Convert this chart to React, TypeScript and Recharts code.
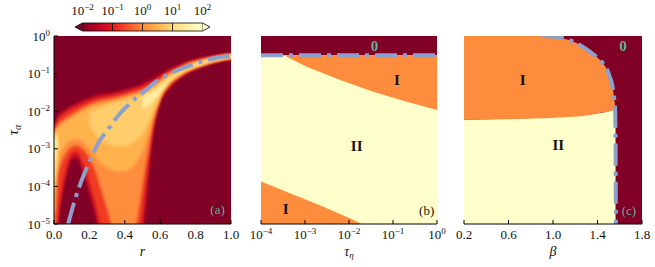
import React from 'react';
import { ComposedChart, Area, Line, XAxis, YAxis, ReferenceDot, ReferenceArea, ReferenceLine } from 'recharts';

const FONT = '"Liberation Serif", "Times New Roman", "DejaVu Serif", serif';
const BLUE = '#8da0cb';
const TEAL = '#62b096';
const DARK = '#800026';
const ORANGE = '#fd8d3c';
const PALE = '#ffffcc';
const HEAT = ['#c90d22', '#ef3b24', '#fd8d3c', '#feb24c', '#fecd6c', '#ffeda0'];
const CB_STOPS = ['#800026', '#bd0026', '#e31a1c', '#fc4e2a', '#fd8d3c', '#feb24c', '#fed976', '#ffeda0', '#ffffcc'];

// ---------- colorbar ----------
const CB_TICKS = [-2, -1, 0, 1, 2];
const CB_LEFT = [{ x: -2.25, v: [0.5, 0.5] }, { x: -2, v: [0, 1] }];
const CB_RIGHT = [{ x: 2, v: [0, 1] }, { x: 2.25, v: [0.5, 0.5] }];

// ---------- panel (a): r vs log10(tau_alpha) ----------
const R = [-0.03, 0, 0.01, 0.02, 0.035, 0.05, 0.065, 0.08, 0.1, 0.13, 0.16, 0.2, 0.23, 0.26, 0.3, 0.35, 0.4, 0.45, 0.48, 0.5, 0.52, 0.54, 0.56, 0.58, 0.6, 0.65, 0.7, 0.75, 0.8, 0.85, 0.9, 0.95, 1.0, 1.03];
const A_HI = [-2.38, -2.38, -2.25, -2.15, -2.05, -2.0, -1.95, -1.9, -1.85, -1.78, -1.71, -1.63, -1.58, -1.55, -1.52, -1.48, -1.42, -1.35, -1.31, -1.27, -1.22, -1.18, -1.13, -1.07, -1.02, -0.88, -0.78, -0.68, -0.61, -0.56, -0.52, -0.48, -0.46, -0.45];
const A_LO = [-5.3, -5.3, -5.3, -5.3, -4.6, -4.2, -3.85, -3.55, -3.3, -3.25, -3.6, -4.2, -4.7, -5.3, -5.3, -5.3, -5.3, -5.3, -5.3, -5.3, -4.5, -3.5, -2.6, -2.1, -1.78, -1.4, -1.17, -1.0, -0.89, -0.8, -0.72, -0.66, -0.62, -0.61];
const B_HI = [-2.47, -2.47, -2.35, -2.25, -2.15, -2.1, -2.05, -2.0, -1.95, -1.88, -1.81, -1.73, -1.68, -1.64, -1.61, -1.56, -1.5, -1.43, -1.39, -1.35, -1.3, -1.26, -1.21, -1.15, -1.09, -0.94, -0.83, -0.72, -0.645, -0.59, -0.545, -0.505, -0.48, -0.47];
const B_LO = [-5.3, -5.3, -5.3, -4.9, -4.3, -3.9, -3.6, -3.35, -3.15, -3.1, -3.35, -3.9, -4.4, -5.0, -5.3, -5.3, -5.3, -5.3, -5.3, -4.7, -3.9, -3.1, -2.45, -2.02, -1.72, -1.35, -1.13, -0.97, -0.865, -0.78, -0.705, -0.65, -0.61, -0.6];
const D_HI = [-2.55, -2.55, -2.45, -2.38, -2.3, -2.25, -2.2, -2.15, -2.1, -2.0, -1.92, -1.83, -1.77, -1.73, -1.69, -1.64, -1.58, -1.51, -1.47, -1.43, -1.38, -1.34, -1.29, -1.23, -1.16, -0.99, -0.87, -0.755, -0.675, -0.615, -0.565, -0.522, -0.495, -0.485];
const D_LO = [-5.3, -5.3, -4.6, -3.8, -3.45, -3.28, -3.15, -3.05, -2.95, -2.92, -3.0, -3.25, -3.55, -4.0, -4.6, -5.3, -5.3, -5.3, -4.6, -4.0, -3.4, -2.85, -2.3, -1.95, -1.67, -1.3, -1.1, -0.95, -0.845, -0.765, -0.69, -0.635, -0.6, -0.59];
const E_HI = [-2.6, -2.6, -2.52, -2.45, -2.38, -2.33, -2.28, -2.23, -2.17, -2.08, -2.0, -1.91, -1.85, -1.81, -1.76, -1.7, -1.64, -1.57, -1.53, -1.49, -1.44, -1.39, -1.34, -1.28, -1.21, -1.04, -0.91, -0.785, -0.7, -0.635, -0.58, -0.535, -0.505, -0.495];
const E_LO = [-4.7, -4.7, -4.0, -3.5, -3.15, -3.0, -2.9, -2.82, -2.76, -2.74, -2.8, -3.0, -3.2, -3.35, -3.5, -3.6, -3.6, -3.45, -3.25, -3.05, -2.8, -2.5, -2.15, -1.88, -1.62, -1.26, -1.07, -0.93, -0.83, -0.75, -0.68, -0.625, -0.59, -0.58];
const F_HI = [-2.65, -2.65, -2.58, -2.53, null, null, null, null, null, null, null, -2.05, -1.96, -1.9, -1.84, -1.77, -1.71, -1.64, -1.6, -1.56, -1.51, -1.46, -1.4, -1.34, -1.27, -1.09, -0.95, -0.815, -0.725, -0.655, -0.595, -0.548, -0.515, -0.505];
const F_LO = [-4.1, -4.1, -3.7, -3.2, null, null, null, null, null, null, null, -2.4, -2.6, -2.75, -2.85, -2.92, -2.92, -2.82, -2.7, -2.6, -2.45, -2.25, -2.0, -1.8, -1.58, -1.23, -1.04, -0.9, -0.81, -0.735, -0.665, -0.612, -0.575, -0.565];
const G_HI = [-2.72, -2.72, -2.68, -2.66, null, null, null, null, null, null, null, null, null, null, null, null, null, null, null, -1.62, -1.57, -1.52, -1.46, -1.4, -1.33, -1.13, -0.98, -0.835, -0.74, -0.668, -0.607, -0.557, -0.523, -0.513];
const G_LO = [-3.8, -3.8, -3.4, -2.95, null, null, null, null, null, null, null, null, null, null, null, null, null, null, null, -1.95, -1.9, -1.82, -1.74, -1.64, -1.52, -1.2, -1.02, -0.88, -0.79, -0.713, -0.648, -0.597, -0.563, -0.553];
const BG_RANGE = [-5.3, 0.3];

const LINE_A_R = [0.08, 0.1, 0.136, 0.2, 0.26, 0.3, 0.373, 0.41, 0.47, 0.524, 0.56, 0.6, 0.66, 0.75, 0.84, 0.92, 1.0];
const LINE_A_T = [-5.0, -4.65, -4.1, -3.35, -2.77, -2.52, -2.06, -1.88, -1.62, -1.42, -1.27, -1.14, -0.99, -0.82, -0.67, -0.58, -0.53];

const TICKS_A_X = [0, 0.2, 0.4, 0.6, 0.8, 1.0];
const TICKS_LOG_Y = [-5, -4, -3, -2, -1, 0];

// ---------- panel (b): log10(tau_eta) vs log10(tau_alpha) ----------
const TICKS_B_X = [-4, -3, -2, -1, 0];
const B_ZERO_LEVEL = -0.51;
const B_UP_X = [-3.42, -2.96, -2.2, -1.45, -0.69, 0];
const B_UP_LO = [-0.55, -0.82, -1.17, -1.48, -1.75, -1.97];
const B_DN_X = [-4, -3.34, -2.58, -1.98, -1.71];
const B_DN_HI = [-3.87, -4.18, -4.54, -4.85, -5];

// ---------- panel (c): beta vs log10(tau_alpha) ----------
const TICKS_C_X = [0.2, 0.6, 1.0, 1.4, 1.8];
const C_II_X = [0.2, 0.613, 1.0, 1.3, 1.48, 1.54, 1.562];
const C_II_HI = [-2.23, -2.2, -2.16, -2.1, -2.02, -1.97, -1.95];
const C_I_X = [0.2, 0.913, 1.033, 1.1, 1.183, 1.26, 1.333, 1.4, 1.45, 1.51, 1.54, 1.562];
const C_I_HI = [0, 0, -0.02, -0.07, -0.15, -0.26, -0.42, -0.58, -0.73, -1.08, -1.44, -1.95];
const C_I_LO = [-2.23, -2.19, -2.17, -2.16, -2.15, -2.13, -2.1, -2.06, -2.03, -2.0, -1.97, -1.95];
const C_LINE_X = [0.9, 0.97, 1.033, 1.11, 1.183, 1.26, 1.333, 1.4, 1.45, 1.49, 1.51, 1.53, 1.54, 1.55, 1.557, 1.562, 1.565];
const C_LINE_Y = [0, -0.005, -0.02, -0.07, -0.15, -0.27, -0.42, -0.58, -0.73, -0.92, -1.08, -1.27, -1.44, -1.65, -1.88, -2.6, -5];

// ---------- built tables ----------
const rng = (lo: (number | null)[], hi: (number | null)[], i: number) =>
  lo[i] == null || hi[i] == null ? null : [lo[i], hi[i]];
const heatData = R.map((r, i) => ({
  r,
  bg: BG_RANGE,
  a: rng(A_LO, A_HI, i),
  b: rng(B_LO, B_HI, i),
  d: rng(D_LO, D_HI, i),
  e: rng(E_LO, E_HI, i),
  f: rng(F_LO, F_HI, i),
  g: rng(G_LO, G_HI, i),
}));
const lineA = LINE_A_R.map((r, i) => ({ r, t: LINE_A_T[i] }));

const bPale = [{ x: -4, v: [-5, 0] }, { x: 0, v: [-5, 0] }];
const bZero = [{ x: -4, v: [B_ZERO_LEVEL, 0] }, { x: 0, v: [B_ZERO_LEVEL, 0] }];
const bUp = B_UP_X.map((x, i) => ({ x, v: [B_UP_LO[i], B_ZERO_LEVEL] }));
const bDn = B_DN_X.map((x, i) => ({ x, v: [-5, B_DN_HI[i]] }));
const bLine = [{ x: -4, t: B_ZERO_LEVEL }, { x: 0, t: B_ZERO_LEVEL }];

const cDark = [{ x: 0.2, v: [-5, 0] }, { x: 1.8, v: [-5, 0] }];
const cII = C_II_X.map((x, i) => ({ x, v: [-5, C_II_HI[i]] }));
const cI = C_I_X.map((x, i) => ({ x, v: [C_I_LO[i], C_I_HI[i]] }));
const cLine = C_LINE_X.map((x, i) => ({ x, t: C_LINE_Y[i] }));

// ---------- helpers ----------
const fmtExp = (v: number) => (v < 0 ? '\u2212' + Math.abs(v) : String(v));

const PowText = ({ x, y, exp, anchor }: any) => (
  <text x={x} y={y} textAnchor={anchor} fontFamily={FONT} fontSize={13} fill="#111">
    <tspan>10</tspan>
    <tspan dy={-5} fontSize={9}>{fmtExp(exp)}</tspan>
  </text>
);
const YPowTick = (p: any) => <PowText x={p.x} y={p.y + 4.5} exp={p.payload.value} anchor="end" />;
const XPowTick = (p: any) => <PowText x={p.x} y={p.y + 15} exp={p.payload.value} anchor="middle" />;
const CbTick = (p: any) => <PowText x={p.x} y={15} exp={p.payload.value} anchor="middle" />;
const NumTick = (p: any) => (
  <text x={p.x} y={p.y + 15} textAnchor="middle" fontFamily={FONT} fontSize={13} fill="#111">
    {Number(p.payload.value).toFixed(1)}
  </text>
);

const XTitle = (p: any) => {
  const vb = p.viewBox || { x: 0, y: 224, width: 0, height: 0 };
  return (
    <text x={vb.x + vb.width / 2} y={256} textAnchor="middle" fontFamily={FONT} fontSize={14} fontStyle="italic" fill="#111">
      {p.main}
      {p.sub ? <tspan dy={2} fontSize={9}>{p.sub}</tspan> : null}
    </text>
  );
};
const YTitle = (p: any) => {
  const vb = p.viewBox || { x: 0, y: 0, width: 0, height: 0 };
  const cx = vb.x + 18;
  const cy = vb.y + vb.height / 2;
  return (
    <text x={cx} y={cy} transform={`rotate(-90, ${cx}, ${cy})`} textAnchor="middle" fontFamily={FONT} fontSize={15} fontStyle="italic" fill="#111">
      {'\u03c4'}
      <tspan dy={3} fontSize={10}>{'\u03b1'}</tspan>
    </text>
  );
};

const tag = (text: string, color: string, size: number, bold: boolean) => (p: any) => (
  <text x={p.cx} y={p.cy} textAnchor="middle" dominantBaseline="central" fontFamily={FONT} fontSize={size} fontWeight={bold ? 'bold' : 'normal'} fill={color}>
    {text}
  </text>
);

const AX = { stroke: '#000', strokeWidth: 1 };
const MARGIN = { top: 36, bottom: 0 };

const frameAxes = (xDomain: number[], xTicks: number[]) => [
  <XAxis key="xt" xAxisId="t" orientation="top" type="number" dataKey="x" domain={xDomain} ticks={xTicks} interval={0} height={0} tick={false} tickSize={-4} axisLine={AX} tickLine={AX} allowDataOverflow />,
  <YAxis key="yr" yAxisId="r" orientation="right" type="number" domain={[-5, 0]} ticks={TICKS_LOG_Y} interval={0} width={0} tick={false} tickSize={-4} axisLine={AX} tickLine={AX} allowDataOverflow />,
];

export default function App() {
  return (
    <div style={{ position: 'fixed', left: 0, top: 0, width: 655, height: 267, background: '#fff', overflow: 'hidden' }}>
      <style>{'.heat .recharts-area-area { filter: url(#heatBlur); }'}</style>
      <svg width={0} height={0} style={{ position: 'absolute' }}>
        <defs>
          <filter id="heatBlur" filterUnits="userSpaceOnUse" x={-50} y={-50} width={800} height={400}>
            <feGaussianBlur stdDeviation={1.7} />
          </filter>
          <linearGradient id="cbGrad" x1="0" y1="0" x2="1" y2="0">
            {CB_STOPS.map((c, i) => (
              <stop key={i} offset={i / (CB_STOPS.length - 1)} stopColor={c} />
            ))}
          </linearGradient>
        </defs>
      </svg>

      {/* colorbar */}
      <div style={{ position: 'absolute', left: 0, top: 0 }}>
        <ComposedChart width={230} height={32} margin={{ top: 0, right: 20, bottom: 1, left: 75 }}>
          <XAxis orientation="top" type="number" dataKey="x" domain={[-2.25, 2.25]} ticks={CB_TICKS} interval={0} height={23} axisLine={false} tickLine={false} tickSize={0} tickMargin={8} tick={CbTick} />
          <YAxis hide type="number" domain={[0, 1]} />
          <ReferenceArea x1={-2} x2={2} y1={0} y2={1} fill="url(#cbGrad)" fillOpacity={1} stroke="#000" strokeWidth={0.8} ifOverflow="visible" />
          {[-1, 0, 1].map((v) => (
            <ReferenceLine key={v} x={v} stroke="#000" strokeWidth={0.8} />
          ))}
          <Area data={CB_LEFT} dataKey="v" type="linear" fill={DARK} fillOpacity={1} stroke="#000" strokeWidth={0.8} isAnimationActive={false} />
          <Area data={CB_RIGHT} dataKey="v" type="linear" fill={PALE} fillOpacity={1} stroke="#000" strokeWidth={0.8} isAnimationActive={false} />
        </ComposedChart>
      </div>

      {/* panel (a) */}
      <div style={{ position: 'absolute', left: 0, top: 0 }}>
        <ComposedChart width={240} height={267} data={heatData} margin={{ ...MARGIN, left: 0, right: 9 }}>
          <XAxis type="number" dataKey="r" domain={[0, 1]} ticks={TICKS_A_X} interval={0} height={43} tickSize={-4} tickMargin={4} axisLine={AX} tickLine={AX} tick={NumTick} allowDataOverflow label={<XTitle main="r" />} />
          <YAxis type="number" domain={[-5, 0]} ticks={TICKS_LOG_Y} interval={0} width={54} tickSize={-4} tickMargin={8} axisLine={AX} tickLine={AX} tick={YPowTick} allowDataOverflow label={<YTitle />} />
          <XAxis xAxisId="t" orientation="top" type="number" dataKey="r" domain={[0, 1]} ticks={TICKS_A_X} interval={0} height={0} tick={false} tickSize={-4} axisLine={AX} tickLine={AX} allowDataOverflow />
          <YAxis yAxisId="r" orientation="right" type="number" domain={[-5, 0]} ticks={TICKS_LOG_Y} interval={0} width={0} tick={false} tickSize={-4} axisLine={AX} tickLine={AX} allowDataOverflow />
          <Area dataKey="bg" type="linear" fill={DARK} fillOpacity={1} stroke="none" isAnimationActive={false} />
          <Area className="heat" dataKey="a" type="monotone" fill={HEAT[0]} fillOpacity={1} stroke="none" isAnimationActive={false} />
          <Area className="heat" dataKey="b" type="monotone" fill={HEAT[1]} fillOpacity={1} stroke="none" isAnimationActive={false} />
          <Area className="heat" dataKey="d" type="monotone" fill={HEAT[2]} fillOpacity={1} stroke="none" isAnimationActive={false} />
          <Area className="heat" dataKey="e" type="monotone" fill={HEAT[3]} fillOpacity={1} stroke="none" isAnimationActive={false} />
          <Area className="heat" dataKey="f" type="monotone" fill={HEAT[4]} fillOpacity={1} stroke="none" isAnimationActive={false} />
          <Area className="heat" dataKey="g" type="monotone" fill={HEAT[5]} fillOpacity={1} stroke="none" isAnimationActive={false} />
          <Line data={lineA} dataKey="t" type="monotone" stroke={BLUE} strokeWidth={4} strokeDasharray="22 6 4 6" dot={false} activeDot={false} isAnimationActive={false} />
          <ReferenceDot x={0.924} y={-4.61} r={0} shape={tag('(a)', TEAL, 13, false)} />
        </ComposedChart>
      </div>

      {/* panel (b) */}
      <div style={{ position: 'absolute', left: 250, top: 0 }}>
        <ComposedChart width={200} height={267} margin={{ ...MARGIN, left: 11, right: 13 }}>
          <XAxis type="number" dataKey="x" domain={[-4, 0]} ticks={TICKS_B_X} interval={0} height={43} tickSize={-4} tickMargin={4} axisLine={AX} tickLine={AX} tick={XPowTick} allowDataOverflow label={<XTitle main={'\u03c4'} sub={'\u03b7'} />} />
          <YAxis type="number" domain={[-5, 0]} ticks={TICKS_LOG_Y} interval={0} width={0} tickSize={-4} tick={false} axisLine={AX} tickLine={AX} allowDataOverflow />
          {frameAxes([-4, 0], TICKS_B_X)}
          <Area data={bPale} dataKey="v" type="linear" fill={PALE} fillOpacity={1} stroke="none" isAnimationActive={false} />
          <Area data={bZero} dataKey="v" type="linear" fill={DARK} fillOpacity={1} stroke="none" isAnimationActive={false} />
          <Area data={bUp} dataKey="v" type="linear" fill={ORANGE} fillOpacity={1} stroke="none" isAnimationActive={false} />
          <Area data={bDn} dataKey="v" type="linear" fill={ORANGE} fillOpacity={1} stroke="none" isAnimationActive={false} />
          <Line data={bLine} dataKey="t" type="linear" stroke={BLUE} strokeWidth={4} strokeDasharray="22 6 4 6" dot={false} activeDot={false} isAnimationActive={false} />
          <ReferenceDot x={-1.42} y={-0.26} r={0} shape={tag('0', TEAL, 15, true)} />
          <ReferenceDot x={-0.909} y={-1.18} r={0} shape={tag('I', '#111', 15, true)} />
          <ReferenceDot x={-1.825} y={-2.92} r={0} shape={tag('II', '#111', 15, true)} />
          <ReferenceDot x={-3.44} y={-4.6} r={0} shape={tag('I', '#111', 15, true)} />
          <ReferenceDot x={-0.234} y={-4.65} r={0} shape={tag('(b)', '#111', 13, false)} />
        </ComposedChart>
      </div>

      {/* panel (c) */}
      <div style={{ position: 'absolute', left: 450, top: 0 }}>
        <ComposedChart width={205} height={267} margin={{ ...MARGIN, left: 14, right: 13 }}>
          <XAxis type="number" dataKey="x" domain={[0.2, 1.8]} ticks={TICKS_C_X} interval={0} height={43} tickSize={-4} tickMargin={4} axisLine={AX} tickLine={AX} tick={NumTick} allowDataOverflow label={<XTitle main={'\u03b2'} />} />
          <YAxis type="number" domain={[-5, 0]} ticks={TICKS_LOG_Y} interval={0} width={0} tickSize={-4} tick={false} axisLine={AX} tickLine={AX} allowDataOverflow />
          {frameAxes([0.2, 1.8], TICKS_C_X)}
          <Area data={cDark} dataKey="v" type="linear" fill={DARK} fillOpacity={1} stroke="none" isAnimationActive={false} />
          <Area data={cII} dataKey="v" type="linear" fill={PALE} fillOpacity={1} stroke="none" isAnimationActive={false} />
          <Area data={cI} dataKey="v" type="monotone" fill={ORANGE} fillOpacity={1} stroke="none" isAnimationActive={false} />
          <Line data={cLine} dataKey="t" type="monotone" stroke={BLUE} strokeWidth={4} strokeDasharray="22 6 4 6" dot={false} activeDot={false} isAnimationActive={false} />
          <ReferenceDot x={1.629} y={-0.26} r={0} shape={tag('0', TEAL, 15, true)} />
          <ReferenceDot x={0.727} y={-1.17} r={0} shape={tag('I', '#111', 15, true)} />
          <ReferenceDot x={1.048} y={-2.91} r={0} shape={tag('II', '#111', 15, true)} />
          <ReferenceDot x={1.683} y={-4.64} r={0} shape={tag('(c)', TEAL, 13, false)} />
        </ComposedChart>
      </div>
    </div>
  );
}
